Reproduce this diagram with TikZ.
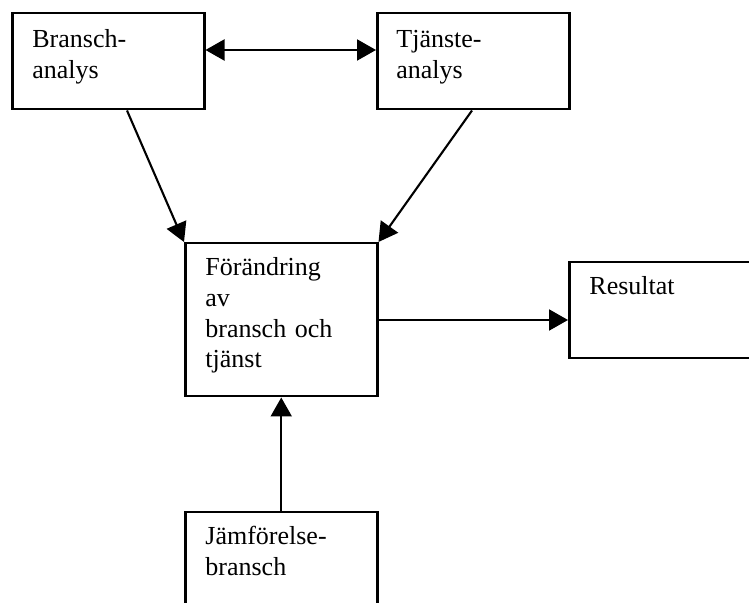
\documentclass[tikz,border=0pt]{standalone}
\usepackage{fontspec}
\setmainfont{Liberation Serif}
\usetikzlibrary{arrows.meta,calc}

\tikzset{
  box/.style={draw, line width=1.25pt, inner sep=0pt, anchor=north west},
  boxtext/.style={anchor=base west, inner sep=0pt, text width=110pt, align=left,
                  font=\fontsize{13}{15.3}\selectfont},
  link/.style={line width=1.05pt, -{Triangle[length=9.5pt,width=10.5pt]}},
  bilink/.style={line width=1.05pt, {Triangle[length=9.5pt,width=10.5pt]}-{Triangle[length=9.5pt,width=10.5pt]}}
}

\begin{document}
\begin{tikzpicture}[x=0.5pt, y=-0.5pt]
  \useasboundingbox (0,0) rectangle (749,603);
  \clip (0,0) rectangle (749,603);

  % boxes
  \node[box, minimum width=96pt, minimum height=48pt] (bransch) at (11,12) {};
  \node[box, minimum width=96pt, minimum height=48pt] (tjanst) at (376,12) {};
  \node[box, minimum width=96pt, minimum height=76.5pt] (forandring) at (184,242) {};
  \node[box, minimum width=111pt, minimum height=48pt] (resultat) at (568,261) {};
  \node[box, minimum width=96pt, minimum height=70pt] (jamforelse) at (184,511) {};

  % labels
  \node[boxtext] (tbransch) at ($(bransch.north west)+(21,36)$) {Bransch-\\analys};
  \node[boxtext] (ttjanst) at ($(tjanst.north west)+(20,36)$) {Tjänste-\\analys};
  \node[boxtext] (tforandring) at ($(forandring.north west)+(21,34)$) {Förändring\\av\\bransch och\\tjänst};
  \node[boxtext] (tresultat) at ($(resultat.north west)+(21,34)$) {Resultat};
  \node[boxtext] (tjamforelse) at ($(jamforelse.north west)+(21,34)$) {Jämförelse-\\bransch};

  % connectors
  \coordinate (out) at ($(forandring.north east)+(0,78)$);
  \draw[bilink] ($(bransch.north east)+(0,38)$) -- ($(tjanst.north west)+(0,38)$);
  \draw[link] ($(bransch.south west)+(116,0)$) -- (forandring.north west);
  \draw[link] ($(tjanst.south west)+(96,0)$) -- (forandring.north east);
  \draw[link] (out) -- (out -| resultat.west);
  \draw[link] (jamforelse.north) -- (forandring.south);
\end{tikzpicture}
\end{document}
